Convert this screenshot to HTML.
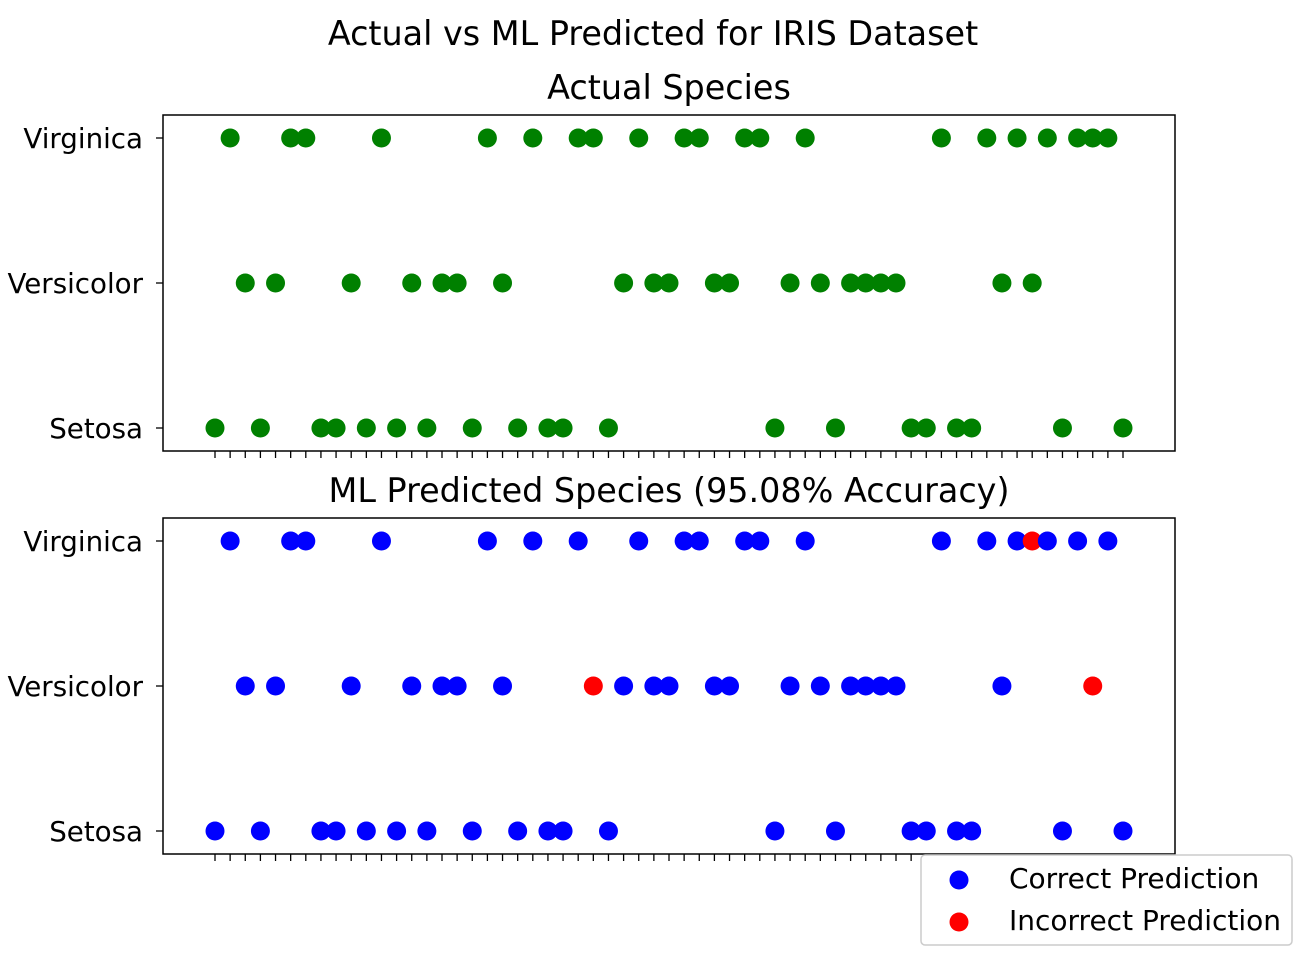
<!DOCTYPE html>
<html><head><meta charset="utf-8"><style>
html,body{margin:0;padding:0;background:#fff;}
svg{display:block;font-family:"DejaVu Sans","Liberation Sans",sans-serif;}
</style></head><body>
<svg id="fig" width="1306" height="960" viewBox="0 0 1306 960">
<text x="653" y="45" font-size="33.4" text-anchor="middle">Actual vs ML Predicted for IRIS Dataset</text>
</svg>
<script>
const categories = ['Setosa','Versicolor','Virginica'];
const actual = [0,2,1,0,1,2,2,0,0,1,0,2,0,1,0,1,1,0,2,1,0,2,0,0,2,2,0,1,2,1,1,2,2,1,1,2,2,0,1,2,1,0,1,1,1,1,0,0,2,0,0,2,1,2,1,2,0,2,2,2,0];
const predicted = [0,2,1,0,1,2,2,0,0,1,0,2,0,1,0,1,1,0,2,1,0,2,0,0,2,1,0,1,2,1,1,2,2,1,1,2,2,0,1,2,1,0,1,1,1,1,0,0,2,0,0,2,1,2,2,2,0,2,1,2,0];
const accuracyLabel = '95.08';
const NS='http://www.w3.org/2000/svg';
const svg=document.getElementById('fig');
function mk(t,a,p){const e=document.createElementNS(NS,t);for(const k in a)e.setAttribute(k,a[k]);(p||svg).appendChild(e);return e;}
const x0=163,x1=1175;
const xScale=i=>215+i*(1123-215)/(actual.length-1);
function panel(top,title,name,vals,colorFn){
  const bottom=top+336;
  const g=mk('g',{});
  
  
  const yScale=v=>top+313-v*145;
  const t=mk('text',{x:669,y:top-16,'font-size':33.4,'text-anchor':'middle'},g);t.textContent=title;
  
  
  categories.forEach((c,k)=>{
    const y=yScale(k);
    mk('line',{x1:x0-7,x2:x0,y1:y,y2:y,stroke:'#000','stroke-width':1.3},g);
    const l=mk('text',{x:x0-20,y:y+10,'font-size':27.7,'text-anchor':'end'},g);l.textContent=c;
    
    
  });
  for(let i=0;i<vals.length;i++){
    const x=xScale(i);
    mk('line',{x1:x,x2:x,y1:bottom,y2:bottom+7,stroke:'#000','stroke-width':1.3},g);
  }
  vals.forEach((v,i)=>{
    const c=mk('circle',{cx:xScale(i),cy:yScale(v),r:9.5,fill:colorFn(i)},g);
    
    
  });
  const r=mk('rect',{x:x0,y:top,width:x1-x0,height:336,fill:'none',stroke:'#000','stroke-width':1.5},g);
  
  
}
panel(115,'Actual Species','actual-panel',actual,()=> '#008000');
panel(518,'ML Predicted Species ('+accuracyLabel+'% Accuracy)','predicted-panel',predicted,i=>predicted[i]===actual[i]?'#0000ff':'#ff0000');
const lg=mk('g',{});


mk('rect',{x:921,y:855,width:371,height:90,rx:4,fill:'#fff',stroke:'#ccc','stroke-width':1.5},lg);
[['Correct Prediction','#0000ff',879],['Incorrect Prediction','#ff0000',921]].forEach(([t,c,y])=>{
  const m=mk('circle',{cx:959,cy:y+1,r:9.5,fill:c},lg);
  
  
  const tx=mk('text',{x:1009,y:y+9,'font-size':28},lg);tx.textContent=t;
  
  
});
</script>
</body></html>
